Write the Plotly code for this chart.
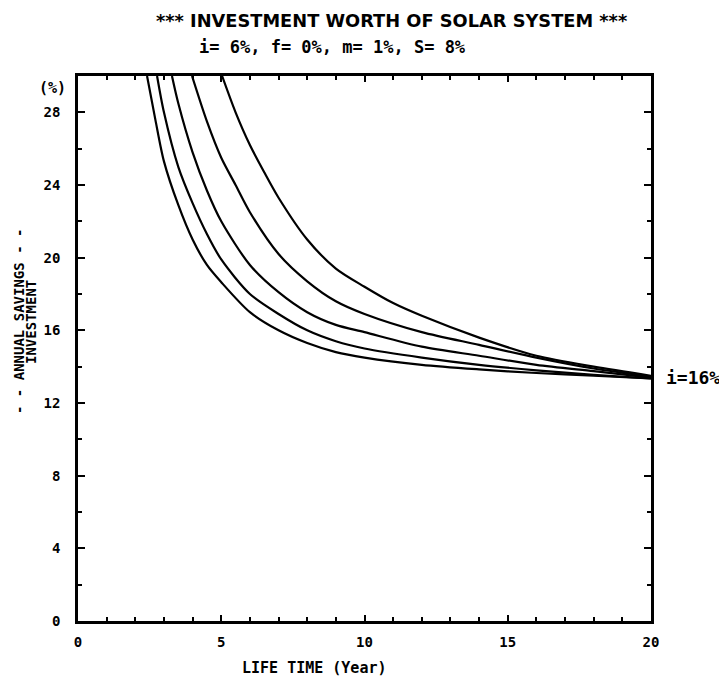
import plotly.graph_objects as go

# Life time (years) and Annual savings / Investment (%) for five curves
c1_x = [2.41, 2.7, 3.0, 3.5, 4.0, 4.5, 5.0, 6.0, 7.0, 8.0, 9.0, 10.0, 12.0, 14.0, 16.0, 18.0, 20.0]
c1_y = [30.0, 27.6, 25.3, 22.9, 21.0, 19.6, 18.65, 17.0, 16.0, 15.3, 14.8, 14.5, 14.1, 13.85, 13.65, 13.5, 13.35]

c2_x = [2.76, 3.0, 3.5, 4.0, 4.5, 5.0, 6.0, 7.0, 8.0, 9.0, 10.0, 12.0, 14.0, 16.0, 18.0, 20.0]
c2_y = [30.0, 28.0, 25.0, 23.0, 21.3, 19.9, 18.0, 16.9, 16.0, 15.4, 15.0, 14.5, 14.1, 13.8, 13.55, 13.35]

c3_x = [3.28, 3.5, 4.0, 4.5, 5.0, 6.0, 7.0, 8.0, 9.0, 10.0, 12.0, 14.0, 16.0, 18.0, 20.0]
c3_y = [30.0, 28.5, 25.8, 23.7, 22.0, 19.6, 18.1, 17.0, 16.3, 15.9, 15.1, 14.6, 14.1, 13.75, 13.4]

c4_x = [3.98, 4.5, 5.0, 5.5, 6.0, 7.0, 8.0, 9.0, 10.0, 12.0, 14.0, 16.0, 18.0, 20.0]
c4_y = [30.0, 27.5, 25.5, 24.0, 22.5, 20.2, 18.7, 17.6, 16.9, 15.9, 15.2, 14.5, 13.9, 13.45]

c5_x = [5.03, 5.5, 6.0, 6.5, 7.0, 8.0, 9.0, 10.0, 11.0, 12.0, 14.0, 16.0, 18.0, 20.0]
c5_y = [30.0, 28.0, 26.2, 24.7, 23.3, 21.0, 19.4, 18.4, 17.5, 16.8, 15.6, 14.6, 14.0, 13.5]

series = [(c1_x, c1_y), (c2_x, c2_y), (c3_x, c3_y), (c4_x, c4_y), (c5_x, c5_y)]

x_ticks = [0, 5, 10, 15, 20]
y_ticks = [0, 4, 8, 12, 16, 20, 24, 28]

FONT = "DejaVu Sans Mono"
FONT_WIDE = "DejaVu Sans"

fig = go.Figure()
for xs, ys in series:
    fig.add_trace(go.Scatter(x=xs, y=ys, mode="lines",
                             line=dict(color="black", width=2.2, shape="spline", smoothing=0.8),
                             showlegend=False, hoverinfo="skip"))

axis_common = dict(showline=True, linecolor="black", linewidth=2.5, mirror="allticks",
                   ticks="inside", tickcolor="black", tickwidth=2, showgrid=False, zeroline=False,
                   tickfont=dict(family=FONT, size=14, color="black", weight="bold"))

fig.update_xaxes(range=[0, 20], tickvals=x_ticks, ticklen=6,
                 minor=dict(dtick=1, ticklen=4, tickwidth=1.5, tickcolor="black", ticks="inside"),
                 ticklabelstandoff=6, **axis_common)
fig.update_yaxes(range=[0, 30], tickvals=y_ticks, ticklen=7,
                 minor=dict(dtick=2, ticklen=4, tickwidth=1.5, tickcolor="black", ticks="inside"),
                 ticklabelstandoff=12, **axis_common)

# plot area spans page pixels x 78..651, y 76..621
def px(xp):
    return (xp - 78) / 573

def py(yp):
    return (621 - yp) / 545

ann_font = dict(color="black", weight="bold")
fig.add_annotation(text="*** INVESTMENT WORTH OF SOLAR SYSTEM ***", xref="paper", yref="paper",
                   x=px(391), y=py(21), showarrow=False,
                   xanchor="center", yanchor="middle", font=dict(family=FONT_WIDE, size=17.8, **ann_font))
fig.add_annotation(text="i= 6%, f= 0%, m= 1%, S= 8%", xref="paper", yref="paper",
                   x=px(332), y=py(47), showarrow=False,
                   xanchor="center", yanchor="middle", font=dict(family=FONT, size=17, **ann_font))
fig.add_annotation(text="LIFE TIME (Year)", xref="paper", yref="paper",
                   x=px(314), y=py(668), showarrow=False,
                   xanchor="center", yanchor="middle", font=dict(family=FONT, size=15, **ann_font))
fig.add_annotation(text="(%)", xref="paper", yref="paper",
                   x=px(52), y=py(88), showarrow=False,
                   xanchor="center", yanchor="middle", font=dict(family=FONT, size=15, **ann_font))
fig.add_annotation(text="- - ANNUAL SAVINGS - -", xref="paper", yref="paper",
                   x=px(19), y=py(322), showarrow=False, textangle=-90,
                   xanchor="center", yanchor="middle", font=dict(family=FONT, size=14, **ann_font))
fig.add_annotation(text="INVESTMENT", xref="paper", yref="paper",
                   x=px(31), y=py(322), showarrow=False, textangle=-90,
                   xanchor="center", yanchor="middle", font=dict(family=FONT, size=14, **ann_font))
fig.add_annotation(text="i=16%", xref="paper", yref="paper", x=px(664), y=py(378),
                   showarrow=False, xanchor="left", yanchor="middle", font=dict(family=FONT, size=18, **ann_font))

# page has an 8px body margin, so the figure is 8px smaller and margins shifted
fig.update_layout(width=719, height=672, plot_bgcolor="white", paper_bgcolor="white",
                  margin=dict(l=70, r=76, t=68, b=59), font=dict(family=FONT, color="black"))

fig.write_html("out.html")
